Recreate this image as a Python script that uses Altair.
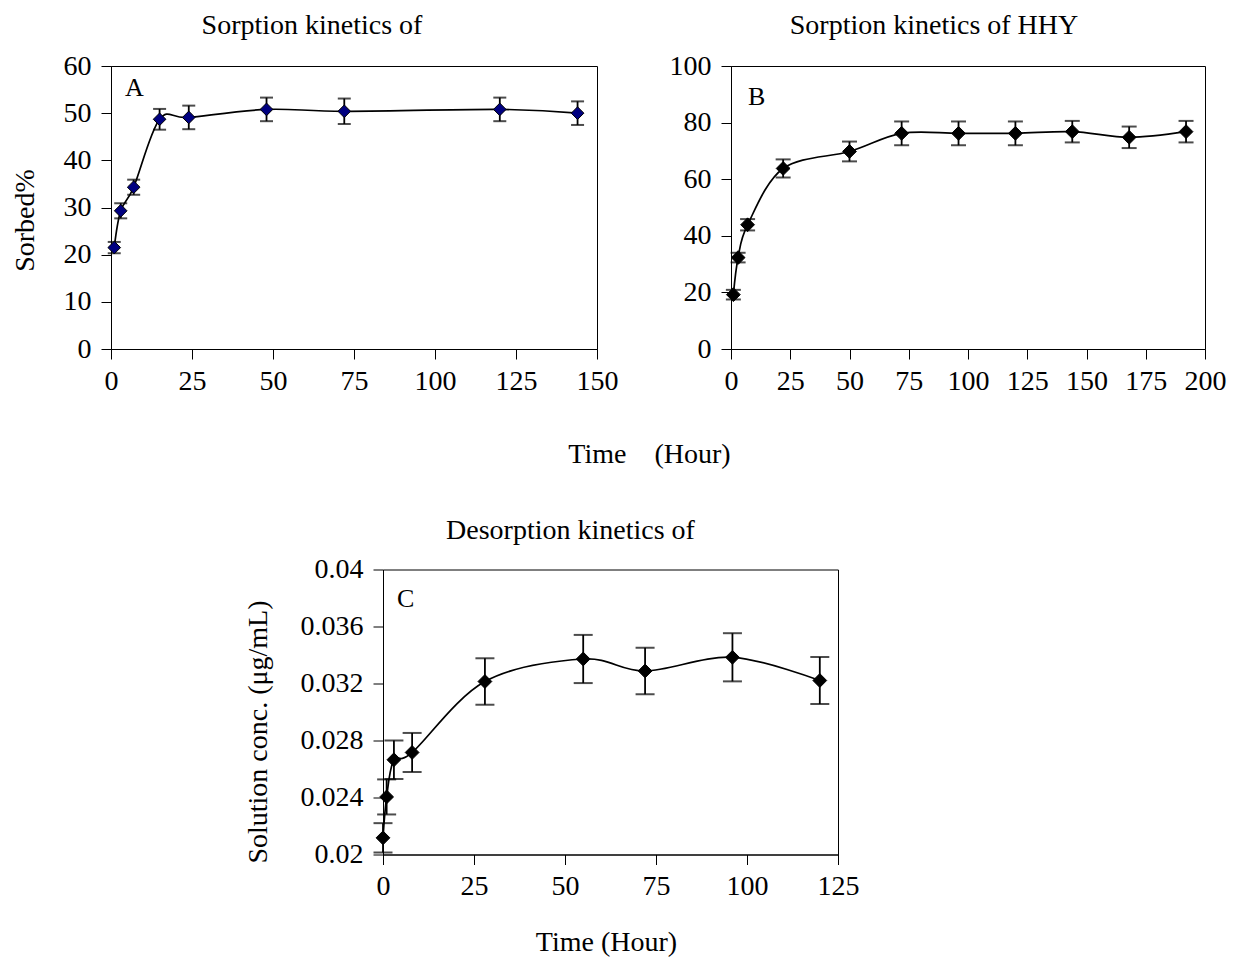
import altair as alt
import pandas as pd

FONT = "Liberation Serif"

# Panel A: sorption kinetics
A_t = [1, 3, 7, 15, 24, 48, 72, 120, 144]
A_y = [21.5, 29.3, 34.3, 48.7, 49.1, 50.8, 50.4, 50.8, 50.0]
A_err = [1.2, 1.6, 1.6, 2.2, 2.5, 2.5, 2.7, 2.5, 2.5]
A_xticks = [0, 25, 50, 75, 100, 125, 150]
A_yticks = [0, 10, 20, 30, 40, 50, 60]

# Panel B: sorption kinetics of HHY
B_t = [1, 3, 7, 22, 50, 72, 96, 120, 144, 168, 192]
B_y = [19.2, 32.3, 43.9, 63.8, 69.8, 76.2, 76.2, 76.2, 76.8, 74.8, 76.8]
B_err = [1.7, 1.7, 2.0, 3.2, 3.5, 4.2, 4.2, 4.2, 3.8, 3.8, 3.8]
B_xticks = [0, 25, 50, 75, 100, 125, 150, 175, 200]
B_yticks = [0, 20, 40, 60, 80, 100]

# Panel C: desorption kinetics
C_t = [0, 1, 3, 8, 28, 55, 72, 96, 120]
C_y = [0.02117, 0.02404, 0.02665, 0.02716, 0.03214, 0.03372, 0.03288, 0.03384, 0.03221]
C_err = [0.00103, 0.00123, 0.00135, 0.00137, 0.00163, 0.00169, 0.00163, 0.00169, 0.00165]
C_xticks = [0, 25, 50, 75, 100, 125]
C_yticks = [0.02, 0.024, 0.028, 0.032, 0.036, 0.04]

NB = "\u00a0"


def axis(values, title=None, fmt=None, **kw):
    opts = dict(values=values, grid=False, domainColor="black", domainWidth=1,
                tickColor="black", tickWidth=1, tickSize=10,
                labelFont=FONT, labelFontSize=28, labelColor="black",
                labelPadding=8, labelOverlap=False, labelFlush=False,
                titleFont=FONT, titleFontSize=28, titleFontWeight="normal",
                titleColor="black")
    if fmt is not None:
        opts["format"] = fmt
    opts.update(kw)
    if title is None:
        return alt.Axis(title=None, **opts)
    return alt.Axis(title=title, **opts)


def panel(t, y, err, xdom, ydom, w, h, fill, cap, msize,
          letter, lx, ly, title, tdx, toff, xaxis, yaxis):
    df = pd.DataFrame({
        "t": t, "y": y,
        "lo": [a - b for a, b in zip(y, err)],
        "hi": [a + b for a, b in zip(y, err)],
    })
    xs = alt.Scale(domain=xdom, nice=False, zero=False)
    ys = alt.Scale(domain=ydom, nice=False, zero=False)
    X = alt.X("t:Q", scale=xs, axis=xaxis)
    base = alt.Chart(df)
    line = base.mark_line(interpolate="cardinal", color="black", strokeWidth=1.7).encode(
        x=X, y=alt.Y("y:Q", scale=ys, axis=yaxis))
    bars = base.mark_errorbar(ticks={"size": cap, "thickness": 2}, thickness=1.8,
                              color="black").encode(
        x=X, y=alt.Y("lo:Q", scale=ys, axis=yaxis), y2="hi:Q")
    pts = base.mark_point(shape="diamond", filled=True, size=msize, fill=fill,
                          stroke="black", strokeWidth=1, opacity=1).encode(
        x=X, y=alt.Y("y:Q", scale=ys, axis=yaxis))
    lab = alt.Chart(pd.DataFrame({"l": [letter]})).mark_text(
        font=FONT, fontSize=26, align="left", baseline="alphabetic", color="black").encode(
        text="l:N", x=alt.value(lx), y=alt.value(ly))
    return alt.layer(line, bars, pts, lab).properties(
        width=w, height=h,
        view=alt.ViewBackground(stroke="black", strokeWidth=1),
        title=alt.TitleParams(text=title, font=FONT, fontSize=28, fontWeight="normal",
                              color="black", anchor="middle", frame="group",
                              dx=tdx, offset=toff, baseline="alphabetic"),
    )


chartA = panel(
    A_t, A_y, A_err, [0, 150], [0, 60], 486, 283, "#000080", 13, 160,
    "A", 14, 30, "Sorption kinetics of", -42, -10,
    axis(A_xticks, "Time" + NB * 4 + "(Hour)", titleX=538, titleY=113, titleAlign="center",
         titleBaseline="alphabetic"),
    axis(A_yticks, "Sorbed%", labelPadding=10, titleX=-78, titleY=154, titleAlign="center",
         titleBaseline="alphabetic", titleAngle=270),
)

chartB = panel(
    B_t, B_y, B_err, [0, 200], [0, 100], 474, 283, "black", 15, 190,
    "B", 17, 39, "Sorption kinetics of HHY", -34, -10,
    axis(B_xticks),
    axis(B_yticks, labelPadding=10),
)

chartC = panel(
    C_t, C_y, C_err, [0, 125], [0.02, 0.04], 455, 285, "black", 19, 190,
    "C", 14, 37, "Desorption kinetics of", -40, -11,
    axis(C_xticks, "Time (Hour)", titleX=223, titleY=96, titleAlign="center",
         titleBaseline="alphabetic"),
    axis(C_yticks, "Solution conc. (μg/mL)", fmt=".3~f", labelPadding=10, titleX=-117,
         titleY=162, titleAlign="center", titleBaseline="alphabetic", titleAngle=270),
)

spacer = alt.Chart(pd.DataFrame({"a": [0]})).mark_point(opacity=0).encode(
    x=alt.X("a:Q", axis=None), y=alt.Y("a:Q", axis=None)
).properties(width=262, height=10, view=alt.ViewBackground(stroke="transparent"))

top = alt.hconcat(chartA, chartB, spacing=134, bounds="flush")
bottom = alt.hconcat(spacer, chartC, spacing=10, bounds="flush")

chart = alt.vconcat(top, bottom, spacing=503.5, bounds="flush").properties(
    padding={"left": 10, "top": 11, "right": 0, "bottom": 0},
    background="white",
)

chart.save("out.html", embed_options={"renderer": "svg", "actions": False})
